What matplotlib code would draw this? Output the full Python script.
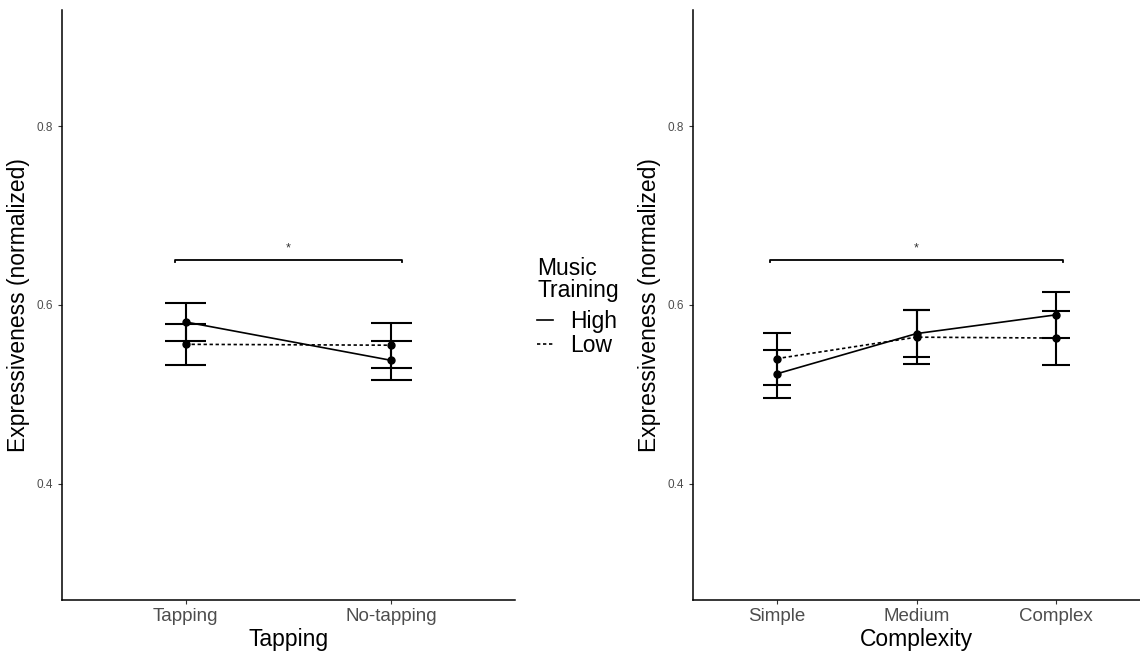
import matplotlib
matplotlib.use("Agg")
import matplotlib.pyplot as plt
import numpy as np
from matplotlib.lines import Line2D

plt.rcParams["font.family"] = ["Liberation Sans", "DejaVu Sans"]

# left panel: tapping condition
tap_levels = ["Tapping", "No-tapping"]
tap_high = [0.581, 0.538]
tap_high_err = [0.0215, 0.0215]
tap_low = [0.556, 0.555]
tap_low_err = [0.023, 0.025]

# right panel: complexity condition
cx_levels = ["Simple", "Medium", "Complex"]
cx_high = [0.523, 0.568, 0.589]
cx_high_err = [0.027, 0.026, 0.026]
cx_low = [0.540, 0.564, 0.563]
cx_low_err = [0.029, 0.030, 0.030]

yticks = [0.4, 0.6, 0.8]
sig_y = 0.65

fig = plt.figure(figsize=(11.4, 6.53), dpi=100)
ax1 = fig.add_axes([0.0544, 0.0812, 0.3974, 0.9035])
ax2 = fig.add_axes([0.6079, 0.0812, 0.3921, 0.9035])


def draw_panel(ax, levels, high, high_err, low, low_err, xlabel):
    x = np.arange(1, len(levels) + 1)
    for means, errs, ls in [(low, low_err, (0, (2, 1.6))), (high, high_err, "-")]:
        means = np.array(means)
        errs = np.array(errs)
        ax.vlines(x, means - errs, means + errs, color="black", lw=1.5)
        for e in (means - errs, means + errs):
            ax.hlines(e, x - 0.1, x + 0.1, color="black", lw=1.5)
        ax.plot(x, means, color="black", lw=1.2, linestyle=ls)
        ax.plot(x, means, "o", color="black", ms=5)

    # significance bracket
    x0, x1 = 0.95, len(levels) + 0.05
    ax.plot([x0, x0, x1, x1], [sig_y - 0.002, sig_y, sig_y, sig_y - 0.002],
            color="black", lw=1.3)
    ax.text((x0 + x1) / 2, sig_y + 0.007, "*", ha="center", va="bottom",
            fontsize=9, color="#333333")

    ax.set_xlim(0.4, len(levels) + 0.6)
    ax.set_ylim(0.27, 0.93)
    ax.set_xticks(x, labels=levels)
    ax.set_yticks(yticks, labels=[str(t) for t in yticks])
    ax.tick_params(axis="x", labelsize=13.5, colors="#4d4d4d", length=3,
                   width=0.8, pad=3)
    ax.tick_params(axis="y", labelsize=8.5, colors="#4d4d4d", length=3,
                   width=0.8)
    ax.tick_params(axis="both", color="#333333")
    ax.set_xlabel(xlabel, fontsize=16.5, labelpad=2)
    ax.set_ylabel("Expressiveness (normalized)", fontsize=16.5, labelpad=5)
    ax.spines["top"].set_visible(False)
    ax.spines["right"].set_visible(False)
    for s in ["left", "bottom"]:
        ax.spines[s].set_linewidth(1.1)


draw_panel(ax1, tap_levels, tap_high, tap_high_err, tap_low, tap_low_err,
           "Tapping")
draw_panel(ax2, cx_levels, cx_high, cx_high_err, cx_low, cx_low_err,
           "Complexity")

handles = [Line2D([], [], color="black", lw=1.2, linestyle="-"),
           Line2D([], [], color="black", lw=1.2, linestyle=(0, (2, 1.6)))]
leg = fig.legend(handles, ["High", "Low"], title="Music\nTraining",
                 loc="upper left", bbox_to_anchor=(0.455, 0.635),
                 frameon=False, fontsize=16.5, title_fontsize=16.5,
                 handlelength=0.7, handletextpad=0.75, labelspacing=0.05,
                 borderpad=0.3)
leg._legend_box.align = "left"
leg._legend_box.sep = 6
leg.get_title().set_linespacing(0.95)

fig.savefig("out.png", dpi=100, facecolor="white")
